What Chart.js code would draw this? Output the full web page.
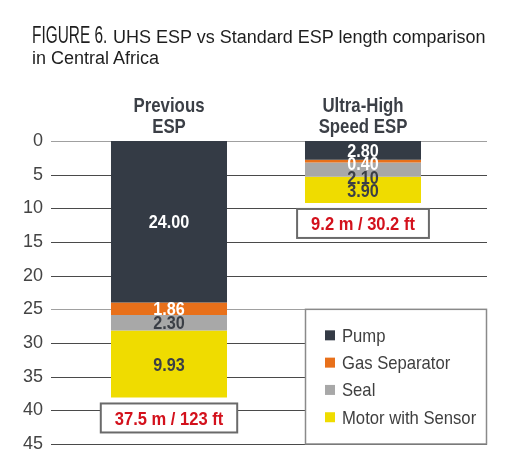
<!DOCTYPE html>
<html>
<head>
<meta charset="utf-8">
<script src="https://cdn.jsdelivr.net/npm/chart.js@4"></script>
<style>
  html, body { margin: 0; padding: 0; background: #fff; }
  #wrap { position: relative; width: 510px; height: 476px; }
  canvas { display: block; }
  #title {
    position: absolute; left: 32px; top: 25px; width: 478px;
    font-family: "Liberation Sans", Arial, sans-serif;
    color: #1e1e1e; font-size: 18px; line-height: 21px; white-space: nowrap;
  }
  #title .fig { display: inline-block; width: 81px; font-size: 23px; }
  #title .fig span { display: inline-block; transform: scaleX(0.67); transform-origin: left center; }
</style>
</head>
<body>
<div id="wrap">
  <div id="title"><span class="fig"><span>FIGURE 6.</span></span>UHS ESP vs Standard ESP length comparison<br>in Central Africa</div>
  <canvas id="chart" width="510" height="476"></canvas>
</div>
<script>
// данные графика
const categories = [["Previous", "ESP"], ["Ultra-High", "Speed ESP"]];
const seriesNames = ["Pump", "Gas Separator", "Seal", "Motor with Sensor"];
const pump = [24.0, 2.8];
const gasSeparator = [1.86, 0.4];
const seal = [2.3, 2.1];
const motor = [9.93, 3.9];
const totalLabels = ["37.5 m / 123 ft", "9.2 m / 30.2 ft"];
const yTicks = [0, 5, 10, 15, 20, 25, 30, 35, 40, 45];

const colors = ["#343b45", "#e8701a", "#a8a8a8", "#efdc00"];
const labelColors = ["#ffffff", "#ffffff", "#3b3f46", "#3b3f46"];
const FONT = '"Liberation Sans", Arial, sans-serif';

// текст со сжатием по ширине (узкий шрифт недоступен)
function drawText(ctx, text, x, y, font, color, align, sx) {
  ctx.save();
  ctx.font = font;
  ctx.fillStyle = color;
  ctx.textAlign = align;
  ctx.textBaseline = "alphabetic";
  ctx.translate(x, y);
  ctx.scale(sx, 1);
  ctx.fillText(text, 0, 0);
  ctx.restore();
}

// линии сетки шире области графика
const gridPlugin = {
  id: "wideGrid",
  beforeDatasetsDraw(chart) {
    const { ctx, chartArea, scales } = chart;
    ctx.save();
    yTicks.forEach((v) => {
      const y = Math.round(scales.y.getPixelForValue(v)) + 0.5;
      ctx.strokeStyle = (v === 0 || v === 25) ? "#a0a0a0" : "#4a4a4a";
      ctx.lineWidth = 1;
      ctx.beginPath();
      ctx.moveTo(chartArea.left - 21, y);
      ctx.lineTo(chartArea.right + 27, y);
      ctx.stroke();
    });
    ctx.restore();
  },
};

// подписи категорий, значений, итоги и легенда
const overlayPlugin = {
  id: "overlay",
  afterDatasetsDraw(chart) {
    const { ctx, scales } = chart;

    categories.forEach((lines, i) => {
      const x = scales.x.getPixelForValue(i);
      lines.forEach((line, j) => {
        drawText(ctx, line, x, 112 + j * 21, "bold 21px " + FONT, "#3b3f46", "center", 0.8);
      });

      let prevY = -1000;
      let barBottom = 0;
      chart.data.datasets.forEach((ds, d) => {
        const bar = chart.getDatasetMeta(d).data[i];
        const center = (bar.y + bar.base) / 2;
        const y = Math.max(center, prevY + 13.5);
        prevY = y;
        barBottom = Math.max(bar.y, bar.base);
        drawText(ctx, ds.data[i].toFixed(2), bar.x, y + 6.5, "bold 18px " + FONT, labelColors[d], "center", 0.9);
      });

      // рамка с общей длиной
      const txt = totalLabels[i];
      ctx.font = "bold 19px " + FONT;
      const w = ctx.measureText(txt).width * 0.87 + 28;
      const h = 29;
      const top = barBottom + 6;
      ctx.save();
      ctx.fillStyle = "#fff";
      ctx.fillRect(x - w / 2, top, w, h);
      ctx.strokeStyle = "#6a6a6a";
      ctx.lineWidth = 2;
      ctx.strokeRect(x - w / 2, top, w, h);
      ctx.restore();
      drawText(ctx, txt, x, top + h / 2 + 7, "bold 19px " + FONT, "#d3111c", "center", 0.87);
    });

    // легенда в рамке
    const lx = 305.5, ly = scales.y.getPixelForValue(25), lw = 181, lh = scales.y.getPixelForValue(45) - ly;
    ctx.save();
    ctx.fillStyle = "#fff";
    ctx.fillRect(lx, ly, lw, lh);
    ctx.strokeStyle = "#8a8a8a";
    ctx.lineWidth = 1.5;
    ctx.strokeRect(lx, ly, lw, lh);
    seriesNames.forEach((name, k) => {
      const cy = ly + 26 + k * 27.3;
      ctx.fillStyle = colors[k];
      ctx.fillRect(lx + 19.5, cy - 5, 10, 10);
      drawText(ctx, name, lx + 36.5, cy + 6.5, "18.5px " + FONT, "#3f3f3f", "left", 0.9);
    });
    ctx.restore();
  },
};

const seriesValues = [pump, gasSeparator, seal, motor];

new Chart(document.getElementById("chart").getContext("2d"), {
  type: "bar",
  data: {
    labels: categories,
    datasets: seriesNames.map((name, k) => ({
      label: name,
      data: seriesValues[k],
      backgroundColor: colors[k],
      borderWidth: 0,
      barPercentage: 1,
      categoryPercentage: 0.598,
    })),
  },
  options: {
    responsive: false,
    animation: false,
    layout: { padding: { left: 0, right: 50, top: 141, bottom: 32 } },
    plugins: {
      legend: { display: false },
      tooltip: { enabled: false },
      title: { display: false },
    },
    scales: {
      x: {
        stacked: true,
        display: false,
      },
      y: {
        stacked: true,
        reverse: true,
        min: 0,
        max: 45,
        // сетку рисует плагин, tickLength только сдвигает подписи
        grid: { display: false, drawTicks: true, tickLength: 25 },
        border: { display: false },
        afterBuildTicks(scale) {
          scale.ticks = yTicks.map((v) => ({ value: v }));
        },
        ticks: {
          color: "#444",
          font: { family: FONT, size: 18 },
          padding: 4,
        },
        afterFit(scale) {
          scale.width = 72;
        },
      },
    },
  },
  plugins: [gridPlugin, overlayPlugin],
});
</script>
</body>
</html>
